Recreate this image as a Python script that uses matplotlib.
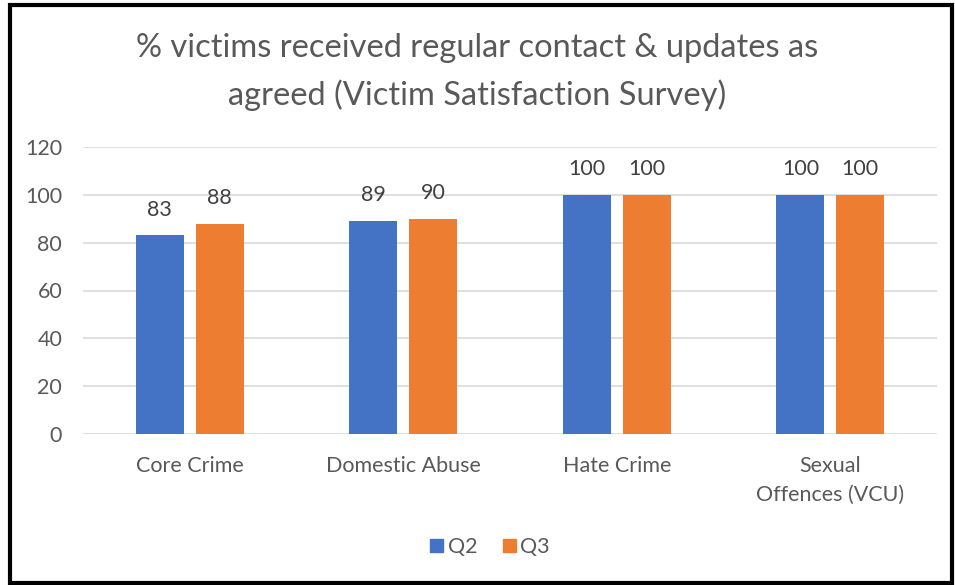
import matplotlib
matplotlib.use("Agg")
import matplotlib.pyplot as plt
from matplotlib.patches import Rectangle, Patch
import numpy as np

### Data ###
categories = ["Core Crime", "Domestic Abuse", "Hate Crime", "Sexual\nOffences (VCU)"]
q2 = [83, 89, 100, 100]
q3 = [88, 90, 100, 100]
series_names = ["Q2", "Q3"]
yticks = [0, 20, 40, 60, 80, 100, 120]
### End Data ###

blue = "#4472C4"
orange = "#ED7D31"
grey_text = "#595959"
label_text = "#404040"
fs = 15.5

plt.rcParams["font.family"] = ["Lato", "DejaVu Sans"]

W, H = 955, 585
fig = plt.figure(figsize=(W / 100, H / 100), dpi=100)
ax = fig.add_axes([83 / W, 1 - 434 / H, (937 - 83) / W, (434 - 147) / H])

x = np.arange(len(categories))
width = 0.225
offset = 0.14
bars_q2 = ax.bar(x - offset, q2, width, color=blue, zorder=3)
bars_q3 = ax.bar(x + offset, q3, width, color=orange, zorder=3)

for bars, vals in ((bars_q2, q2), (bars_q3, q3)):
    for b, v in zip(bars, vals):
        ax.annotate(str(v), (b.get_x() + b.get_width() / 2, v),
                    xytext=(0, 11.5), textcoords="offset points",
                    ha="center", va="bottom", fontsize=fs, color=label_text)

ax.set_xlim(-0.5, len(categories) - 0.5)
ax.set_ylim(0, 120)
ax.set_yticks(yticks)
ax.yaxis.grid(True, color="#D9D9D9", linewidth=1.2, zorder=0)
ax.set_axisbelow(True)
for s in ax.spines.values():
    s.set_visible(False)
ax.tick_params(axis="both", length=0, labelsize=fs, colors=grey_text)
ax.tick_params(axis="y", pad=15)
ax.tick_params(axis="x", pad=16)
ax.set_xticks(x)
ax.set_xticklabels(categories, linespacing=1.55)

fig.text(0.5, 1 - 48 / H, "% victims received regular contact & updates as",
         ha="center", va="center", fontsize=23.5, color=grey_text)
fig.text(0.5, 1 - 95 / H, "agreed (Victim Satisfaction Survey)",
         ha="center", va="center", fontsize=23.5, color=grey_text)

handles = [Patch(color=blue), Patch(color=orange)]
fig.legend(handles, series_names, loc="center", bbox_to_anchor=(490 / W, 1 - 547 / H),
           ncol=2, frameon=False, fontsize=fs, labelcolor=grey_text,
           handlelength=0.6, handleheight=0.6, handletextpad=0.2, columnspacing=1.2)

# outer frame
fig.patches.append(Rectangle((10 / W, 1 - 583 / H), (952 - 10) / W, (583 - 5) / H,
                             transform=fig.transFigure, fill=False,
                             edgecolor="black", linewidth=3))

fig.savefig("out.png", dpi=100)
